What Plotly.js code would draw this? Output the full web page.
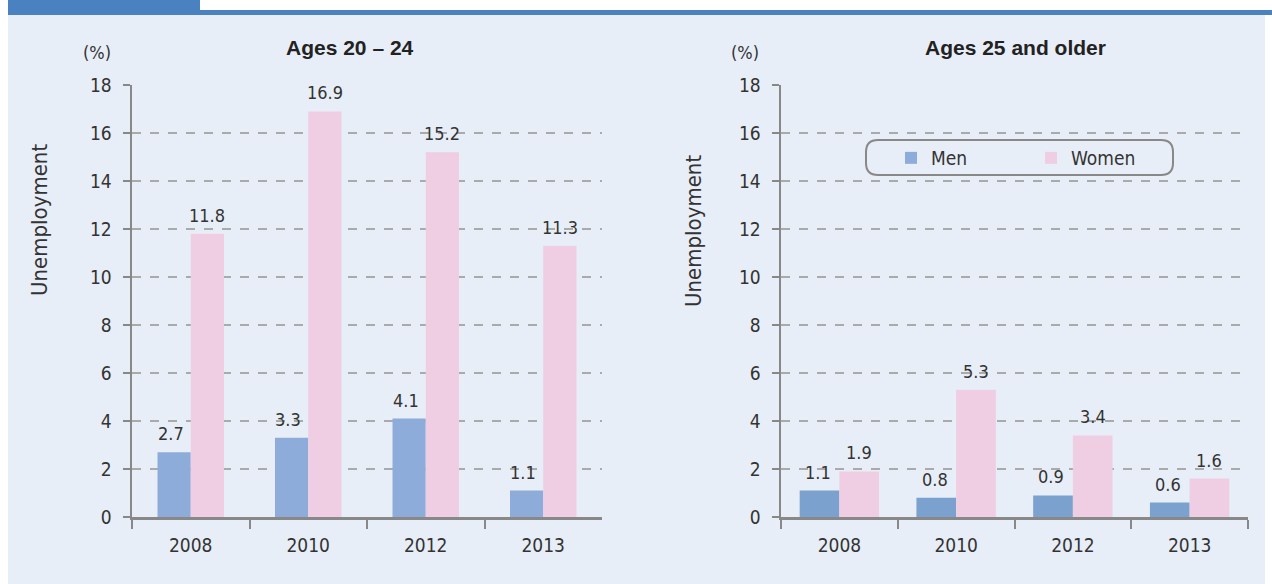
<!DOCTYPE html>
<html><head><meta charset="utf-8">
<script src="https://cdn.plot.ly/plotly-3.0.1.min.js"></script>
<style>html,body{margin:0;padding:0;background:#fff}#c{width:1272px;height:584px}</style>
</head><body><div id="c"></div>
<script>
const years = ['2008', '2010', '2012', '2013'];
const youngMen = [2.7, 3.3, 4.1, 1.1];
const youngWomen = [11.8, 16.9, 15.2, 11.3];
const olderMen = [1.1, 0.8, 0.9, 0.6];
const olderWomen = [1.9, 5.3, 3.4, 1.6];
const yTicks = [0, 2, 4, 6, 8, 10, 12, 14, 16, 18];
const panelTitles = ['Ages 20 \u2013 24', 'Ages 25 and older'];
const seriesNames = ['Men', 'Women'];

const W = 1272, H = 584;
const FONT = '"DejaVu Sans Condensed", "Liberation Sans Narrow", "Liberation Sans", sans-serif';
const TFONT = '"Liberation Sans", sans-serif';
const TXT = '#333333';
const px = v => v / W, py = v => 1 - v / H;

const menL = '#8eacd9', menR = '#7ba1ce', women = '#efcde3';

function bar(x, y, name, color, xa, ya, show, w, side) {
  return {type: 'bar', x: x, y: y, name: name, xaxis: xa, yaxis: ya,
    width: w, offset: side < 0 ? -w : 0,
    marker: {color: color, line: {width: 0}}, showlegend: show, legendgroup: name,
    hoverinfo: 'skip'};
}
const traces = [
  bar(years, youngMen, seriesNames[0], menL, 'x', 'y', true, 0.283, -1),
  bar(years, youngWomen, seriesNames[1], women, 'x', 'y', true, 0.283, 1),
  bar(years, olderMen, seriesNames[0], menR, 'x2', 'y2', false, 0.34, -1),
  bar(years, olderWomen, seriesNames[1], women, 'x2', 'y2', false, 0.34, 1)
];

const ann = [];
function labels(vals, xa, ya, shift) {
  vals.forEach((v, i) => ann.push({x: i + shift, y: v, xref: xa, yref: ya, text: v.toFixed(1),
    showarrow: false, yanchor: 'bottom', yshift: 6, xanchor: 'center',
    font: {family: FONT, size: 18, color: TXT}}));
}
labels(youngMen, 'x', 'y', -0.17);
labels(youngWomen, 'x', 'y', 0.14);
labels(olderMen, 'x2', 'y2', -0.185);
labels(olderWomen, 'x2', 'y2', 0.17);

function txt(x, y, t, size, bold, angle, fam) {
  ann.push({xref: 'paper', yref: 'paper', x: px(x), y: py(y), text: bold ? '<b>' + t + '</b>' : t,
    showarrow: false, xanchor: 'center', yanchor: 'middle', textangle: angle || 0,
    font: {family: fam || FONT, size: size, color: bold ? '#222' : TXT}});
}
txt(350, 47, panelTitles[0], 21, true, 0, TFONT);
txt(1015, 47, panelTitles[1], 21, true, 0, TFONT);
txt(97, 53, '(%)', 18);
txt(745, 53, '(%)', 18);
txt(40, 220, 'Unemployment', 22, false, -90);
txt(693, 231, 'Unemployment', 22, false, -90);

function rrect(x0, y0, x1, y1, r) {
  const rx = r / W, ry = r / H;
  const a = px(x0), b = px(x1), t = py(y0), u = py(y1);
  return `M${a + rx},${t} L${b - rx},${t} Q${b},${t} ${b},${t - ry} L${b},${u + ry} Q${b},${u} ${b - rx},${u} L${a + rx},${u} Q${a},${u} ${a},${u + ry} L${a},${t - ry} Q${a},${t} ${a + rx},${t} Z`;
}

const shapes = [
  {type: 'rect', xref: 'paper', yref: 'paper', x0: px(8), x1: px(1265), y0: 0, y1: py(15),
    fillcolor: '#e8eef7', line: {width: 0}, layer: 'below'},
  {type: 'rect', xref: 'paper', yref: 'paper', x0: px(8), x1: px(1272), y0: py(15), y1: py(10),
    fillcolor: '#4a81c0', line: {width: 0}, layer: 'below'},
  {type: 'rect', xref: 'paper', yref: 'paper', x0: px(8), x1: px(200), y0: py(15), y1: 1,
    fillcolor: '#4a81c0', line: {width: 0}, layer: 'below'},
  {type: 'path', xref: 'paper', yref: 'paper', path: rrect(866, 140, 1173, 175, 12),
    line: {color: '#888', width: 2}, fillcolor: 'rgba(0,0,0,0)', layer: 'above'}
];

function xax(d) {
  return {domain: d, type: 'category', range: [-0.5, 3.5], showline: true, linecolor: '#888', linewidth: 2.5,
    ticks: 'outside', tickson: 'boundaries', ticklen: 9, tickwidth: 2, tickcolor: '#888',
    tickfont: {family: FONT, size: 19, color: TXT}, ticklabelstandoff: 10, showgrid: false, fixedrange: true};
}
function yax(anchor) {
  return {domain: [1 - 517 / H, 1 - 85 / H], anchor: anchor, range: [0, 18], tickvals: yTicks,
    showline: true, linecolor: '#888', linewidth: 2.5, ticks: 'outside', ticklen: 7, tickwidth: 2, tickcolor: '#888',
    tickfont: {family: FONT, size: 19, color: TXT}, ticklabelstandoff: 7,
    showgrid: true, gridcolor: '#aaaaaa', griddash: 'dash', gridwidth: 1.2, zeroline: false, fixedrange: true};
}

const layout = {
  width: W, height: H, margin: {l: 0, r: 0, t: 0, b: 0},
  paper_bgcolor: '#ffffff', plot_bgcolor: '#ffffff',
  barmode: 'overlay',
  xaxis: Object.assign(xax([px(132), px(602)]), {anchor: 'y'}),
  yaxis: yax('x'),
  xaxis2: Object.assign(xax([px(781), px(1248)]), {anchor: 'y2'}),
  yaxis2: yax('x2'),
  showlegend: true,
  legend: {orientation: 'h', x: px(891), y: py(139), xanchor: 'left', yanchor: 'top',
    bgcolor: 'rgba(0,0,0,0)', entrywidth: 95, entrywidthmode: 'pixels', itemwidth: 30,
    font: {family: FONT, size: 19, color: TXT}},
  annotations: ann, shapes: shapes
};

Plotly.newPlot('c', traces, layout, {staticPlot: true, displayModeBar: false});
</script></body></html>
